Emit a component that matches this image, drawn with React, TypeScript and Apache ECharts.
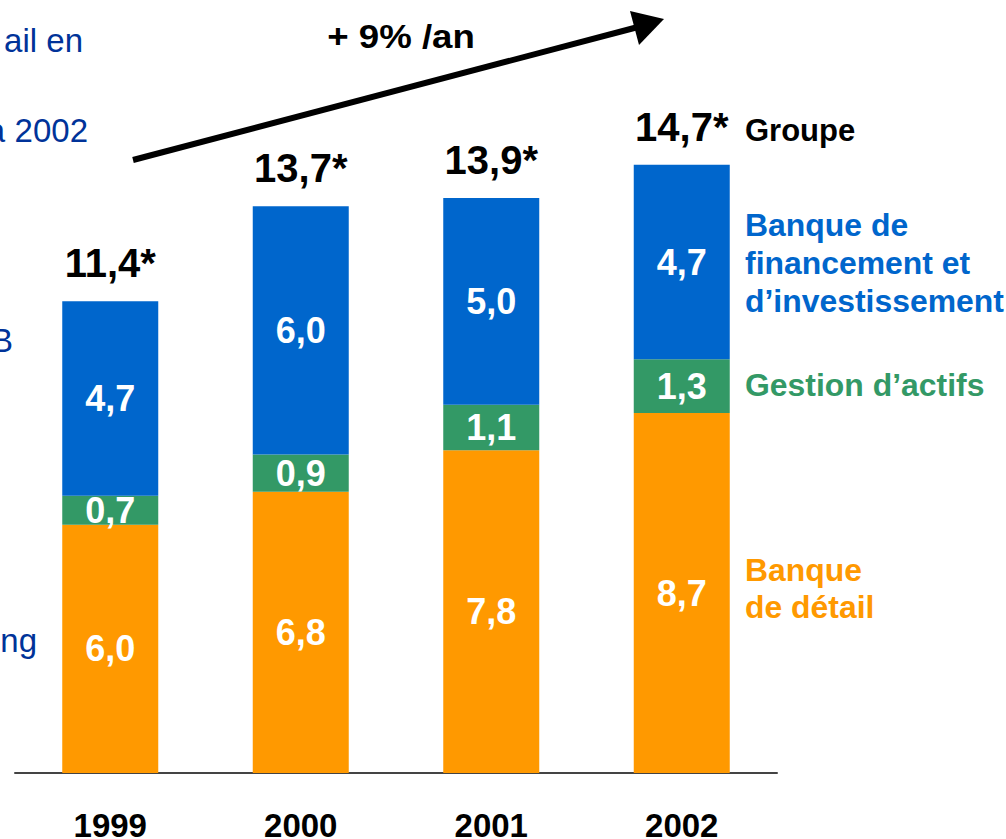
import React, { useEffect, useRef } from "react";
import * as echarts from "echarts";

const years = ["1999", "2000", "2001", "2002"];
const retail = [6.0, 6.8, 7.8, 8.7];
const assetMgmt = [0.7, 0.9, 1.1, 1.3];
const investment = [4.7, 6.0, 5.0, 4.7];
const totals = [11.4, 13.7, 13.9, 14.7];

const seriesNames = [
  "Banque de détail",
  "Gestion d’actifs",
  "Banque de financement et d’investissement",
];

const FONT = "'Liberation Sans', Arial, Helvetica, sans-serif";
const fmt = (v: number) => v.toFixed(1).replace(".", ",");

export default function App() {
  const ref = useRef<HTMLDivElement>(null);
  useEffect(() => {
    document.body.style.margin = "0";
    if (!ref.current) return;
    const chart = echarts.init(ref.current, null, { renderer: "svg" });
    const segLabel = {
      show: true,
      position: "inside",
      color: "#ffffff",
      fontFamily: FONT,
      fontWeight: "bold",
      fontSize: 36,
      formatter: (p: any) => fmt(p.value),
    };
    const leftText = (text: string, x: number, y: number) => ({
      type: "text",
      x,
      y,
      style: {
        text,
        fill: "#003399",
        font: "33px " + FONT,
        textAlign: "right",
        textVerticalAlign: "middle",
      },
    });
    const option: any = {
      animation: false,
      backgroundColor: "#ffffff",
      grid: {
        left: 15,
        right: 229,
        top: 111,
        bottom: 66,
        outerBoundsMode: "none",
        containLabel: false,
      },
      xAxis: {
        type: "category",
        data: years,
        axisLine: { show: true, lineStyle: { color: "#444444", width: 2 } },
        axisTick: { show: false },
        axisLabel: {
          margin: 36,
          color: "#000000",
          fontFamily: FONT,
          fontWeight: "bold",
          fontSize: 33,
        },
      },
      yAxis: {
        type: "value",
        min: 0,
        max: 16,
        show: false,
        splitLine: { show: false },
      },
      series: [
        {
          name: seriesNames[0],
          type: "bar",
          stack: "total",
          barWidth: 96,
          data: retail,
          itemStyle: { color: "#FF9900" },
          label: segLabel,
        },
        {
          name: seriesNames[1],
          type: "bar",
          stack: "total",
          barWidth: 96,
          data: assetMgmt,
          itemStyle: { color: "#339966" },
          label: segLabel,
        },
        {
          name: seriesNames[2],
          type: "bar",
          stack: "total",
          barWidth: 96,
          data: investment,
          itemStyle: { color: "#0066CC" },
          label: segLabel,
        },
        {
          name: "Groupe",
          type: "scatter",
          data: totals,
          symbolSize: 0,
          silent: true,
          z: 10,
          itemStyle: { opacity: 1, color: "#000000" },
          label: {
            show: true,
            position: "top",
            distance: 18,
            color: "#000000",
            opacity: 1,
            fontFamily: FONT,
            fontWeight: "bold",
            fontSize: 40,
            formatter: (p: any) => fmt(p.value) + "*",
          },
        },
      ],
      graphic: [
        {
          type: "line",
          shape: { x1: 133, y1: 160, x2: 638, y2: 27 },
          style: { stroke: "#000000", lineWidth: 6 },
        },
        {
          type: "polygon",
          shape: { points: [[664, 19], [630, 11], [639, 45]] },
          style: { fill: "#000000" },
        },
        {
          type: "text",
          x: 401,
          y: 36,
          scaleX: 1.11,
          style: {
            text: "+ 9% /an",
            fill: "#000000",
            font: "bold 33px " + FONT,
            textAlign: "center",
            textVerticalAlign: "middle",
          },
        },
        {
          type: "text",
          x: 745,
          y: 130,
          style: {
            text: "Groupe",
            fill: "#000000",
            font: "bold 31px " + FONT,
            textVerticalAlign: "middle",
          },
        },
        {
          type: "text",
          x: 745,
          y: 264,
          scaleX: 1.03,
          style: {
            text: "Banque de\nfinancement et\nd’investissement",
            fill: "#0066CC",
            font: "bold 31px " + FONT,
            lineHeight: 38,
            textVerticalAlign: "middle",
          },
        },
        {
          type: "text",
          x: 745,
          y: 386,
          scaleX: 1.03,
          style: {
            text: "Gestion d’actifs",
            fill: "#339966",
            font: "bold 31px " + FONT,
            textVerticalAlign: "middle",
          },
        },
        {
          type: "text",
          x: 745,
          y: 589,
          scaleX: 1.03,
          style: {
            text: "Banque\nde détail",
            fill: "#FF9900",
            font: "bold 31px " + FONT,
            lineHeight: 37,
            textVerticalAlign: "middle",
          },
        },
        leftText("ail en", 83, 40),
        leftText("a", 5, 130),
        leftText("2002", 88, 130),
        leftText("B", 13, 340),
        leftText("ng", 37, 640),
      ],
    };
    chart.setOption(option);
    return () => chart.dispose();
  }, []);
  return <div ref={ref} style={{ width: 1006, height: 839 }} />;
}
